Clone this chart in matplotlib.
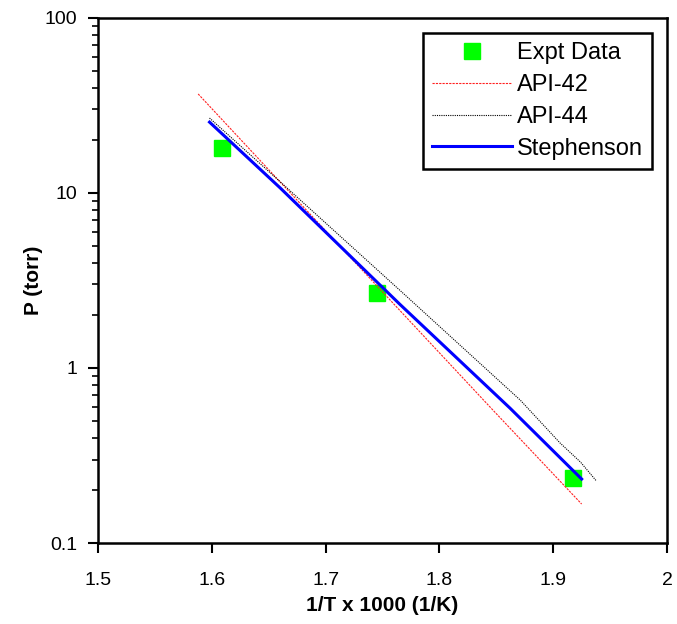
from matplotlib import pyplot as plt
from matplotlib import ticker as ticker
import numpy as np

# Experimental points
expt_x = [1.609, 1.745, 1.917]
expt_p = [18.1, 2.70, 0.235]

# Correlation curves
api42_x = [1.588, 1.765, 1.847, 1.925]
api42_p = [36.8, 2.14, 0.575, 0.167]

api44_x = [1.598, 1.660, 1.765, 1.871, 1.906, 1.924, 1.938]
api44_p = [26.8, 11.6, 2.79, 0.656, 0.373, 0.290, 0.226]

steph_x = [1.598, 1.660, 1.765, 1.862, 1.925]
steph_p = [25.4, 10.7, 2.32, 0.59, 0.232]

plt.rcParams['font.family'] = ['Liberation Sans', 'DejaVu Sans']

fig = plt.figure(figsize=(6.77, 6.24), dpi=100)
ax = fig.add_axes([0.1448, 0.1298, 0.8404, 0.8414])

ax.plot(expt_x, expt_p, 's', color='#00ff00', markersize=11, label='Expt Data', zorder=2)
ax.plot(api42_x, api42_p, color='#ff2020', lw=0.8, ls=(0, (2, 1)), label='API-42', zorder=3)
ax.plot(api44_x, api44_p, color='black', lw=0.8, ls=(0, (1, 1)), label='API-44', zorder=3)
ax.plot(steph_x, steph_p, color='#0000ff', lw=2.2, label='Stephenson', zorder=4)

ax.set_yscale('log')
ax.set_xlim(1.5, 2.0)
ax.set_ylim(0.1, 100)
ax.xaxis.set_major_locator(ticker.MultipleLocator(0.1))
ax.xaxis.set_major_formatter(ticker.FuncFormatter(lambda v, p: f"{v:g}"))
ax.yaxis.set_major_formatter(ticker.FuncFormatter(lambda v, p: f"{v:g}"))
ax.yaxis.set_minor_locator(ticker.LogLocator(subs=np.arange(2, 10)))
ax.yaxis.set_minor_formatter(ticker.NullFormatter())

ax.tick_params(axis='both', which='major', labelsize=14, width=1.5, length=7, direction='out')
ax.tick_params(axis='x', which='major', pad=14)
ax.tick_params(axis='y', which='major', pad=8)
ax.tick_params(axis='y', which='minor', width=1.2, length=4, direction='out')
for s in ax.spines.values():
    s.set_linewidth(1.8)

ax.set_xlabel('1/T x 1000 (1/K)', fontsize=15, fontweight='bold', labelpad=5)
ax.set_ylabel('P (torr)', fontsize=15, fontweight='bold', labelpad=1)

leg = ax.legend(loc='upper right', bbox_to_anchor=(0.9736, 0.9714), fontsize=17,
                fancybox=False, framealpha=1, edgecolor='black', borderaxespad=0,
                handlelength=3.4, labelspacing=0.42, borderpad=0.38, handletextpad=0.2)
leg.get_frame().set_linewidth(1.8)

fig.savefig('out.png', dpi=100)
